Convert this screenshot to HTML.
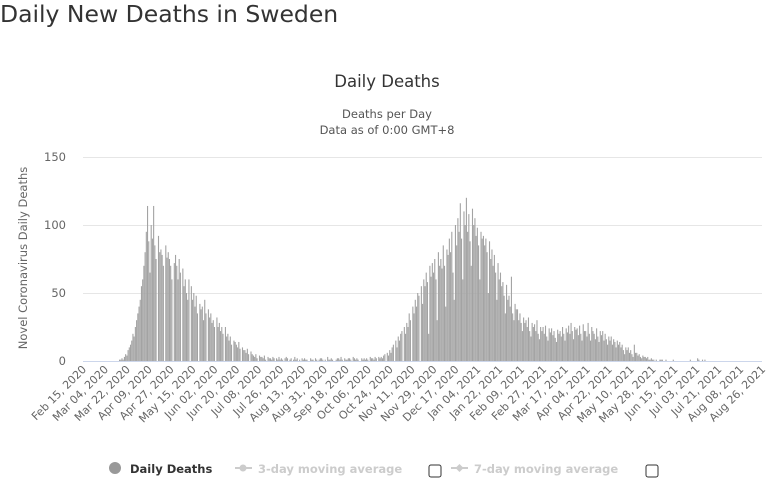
<!DOCTYPE html>
<html><head><meta charset="utf-8"><style>
body{margin:0;background:#fff;width:777px;height:483px;overflow:hidden;font-family:"DejaVu Sans",sans-serif}
</style></head><body>
<svg width="777" height="483" xmlns="http://www.w3.org/2000/svg" style="font-family:'DejaVu Sans',sans-serif">
<text x="0" y="22" font-size="23.5" fill="#333">Daily New Deaths in Sweden</text>
<text x="387" y="87" font-size="16.5" fill="#333" text-anchor="middle">Daily Deaths</text>
<text x="387" y="118" font-size="11.5" fill="#555" text-anchor="middle">Deaths per Day</text>
<text x="387" y="134" font-size="11.5" fill="#555" text-anchor="middle">Data as of 0:00 GMT+8</text>
<text transform="translate(27,258) rotate(-90)" font-size="11.5" fill="#666" text-anchor="middle">Novel Coronavirus Daily Deaths</text>
<g id="grid"></g><g id="bars"></g><g id="xl"></g>
<line x1="83" y1="361.5" x2="762" y2="361.5" stroke="#ccd6eb"/>
<g>
<circle cx="115" cy="468" r="6" fill="#999"/>
<text x="130" y="473" font-size="11.5" font-weight="bold" fill="#333">Daily Deaths</text>
<line x1="235" y1="468" x2="252" y2="468" stroke="#ccc" stroke-width="2"/><circle cx="243" cy="468" r="3.5" fill="#ccc"/>
<text x="258" y="473" font-size="11.5" font-weight="bold" fill="#ccc">3-day moving average</text>
<rect x="429" y="465" width="12" height="12" rx="2" fill="#fff" stroke="#333"/>
<line x1="451" y1="468" x2="468" y2="468" stroke="#ccc" stroke-width="2"/><path d="M459.5 464 L463.5 468 L459.5 472 L455.5 468Z" fill="#ccc"/>
<text x="474" y="473" font-size="11.5" font-weight="bold" fill="#ccc">7-day moving average</text>
<rect x="646" y="465" width="12" height="12" rx="2" fill="#fff" stroke="#333"/>
</g>
</svg>
<script>
const yTicks=[0,50,100,150];
const xLabels=["Feb 15, 2020","Mar 04, 2020","Mar 22, 2020","Apr 09, 2020","Apr 27, 2020","May 15, 2020","Jun 02, 2020","Jun 20, 2020","Jul 08, 2020","Jul 26, 2020","Aug 13, 2020","Aug 31, 2020","Sep 18, 2020","Oct 06, 2020","Oct 24, 2020","Nov 11, 2020","Nov 29, 2020","Dec 17, 2020","Jan 04, 2021","Jan 22, 2021","Feb 09, 2021","Feb 27, 2021","Mar 17, 2021","Apr 04, 2021","Apr 22, 2021","May 10, 2021","May 28, 2021","Jun 15, 2021","Jul 03, 2021","Jul 21, 2021","Aug 08, 2021","Aug 26, 2021"];
const labelStepDays=18;
const deaths=[
0,0,0,0,0,0,0, 0,0,0,0,0,0,0, 0,0,0,0,0,0,0, 0,0,0,0,0,0,0,
0,0,1,1,2,1,3, 5,4,8,10,12,15,20, 18,25,30,35,40,45,55, 60,70,80,95,114,88,65,
100,90,114,85,75,0,92, 80,82,78,70,0,85,76, 80,75,70,60,0,72,78, 70,60,75,65,0,68,55,
60,50,45,60,0,55,45, 50,40,48,35,0,42,38, 40,30,45,35,0,38,32, 35,28,30,25,0,32,25,
28,22,25,20,0,25,18, 20,15,18,12,0,15,14, 12,10,14,9,0,10,8, 8,6,9,5,0,7,5,
4,3,5,2,0,4,3, 3,2,4,1,0,3,2, 2,1,3,2,0,2,1, 3,1,2,1,0,2,3, 2,0,1,2,0,1,3,
1,2,0,1,0,2,1, 2,1,1,0,0,2,1, 1,0,2,1,0,1,2, 2,1,0,1,0,3,1, 1,2,1,0,0,1,2,
2,1,3,1,0,2,1, 1,2,2,1,0,3,2, 1,2,1,0,0,2,1, 2,1,2,1,0,3,2,
2,1,3,2,0,3,2, 3,2,4,5,0,6,4,
8,6,10,12,0,15,10, 18,15,20,22,0,25,20, 28,25,35,30,0,40,35, 45,40,50,48,0,55,42,
60,55,65,58,20,70,62, 72,65,75,60,30,80,70, 75,68,85,70,40,82,78, 90,80,95,65,45,100,85,
105,95,116,90,60,110,100, 120,95,108,88,70,112,100, 105,92,98,85,60,95,90, 92,85,90,80,50,88,75,
82,70,78,65,45,72,60, 65,55,58,48,35,56,45, 48,40,62,35,30,42,38, 38,30,35,28,22,32,28,
30,25,32,22,18,28,25, 27,22,30,20,16,25,22, 25,20,26,18,15,24,21, 24,19,22,17,14,23,20,
22,18,25,20,15,24,21, 26,20,28,22,16,25,23, 24,19,26,20,15,27,22, 22,18,28,20,15,25,22,
20,16,24,18,14,22,19, 22,15,20,16,12,18,15, 18,12,16,14,10,15,12, 14,10,12,8,5,10,8,
10,6,8,5,3,12,6, 6,4,5,3,2,4,3, 3,2,3,1,1,2,1, 1,0,1,0,0,1,1, 1,0,0,1,0,0,0,
0,0,1,0,0,0,0, 0,0,0,0,0,0,0, 0,0,1,0,0,0,0, 0,2,1,0,0,1,0,1];
const NS='http://www.w3.org/2000/svg';
const x0=83,pxDay=1.217,y0=361,pxUnit=1.36;
const xs=d=>x0+d*pxDay, ys=v=>y0-v*pxUnit;
const grid=document.getElementById('grid');
yTicks.forEach(t=>{
 const l=document.createElementNS(NS,'line');
 l.setAttribute('x1',83);l.setAttribute('x2',762);l.setAttribute('y1',Math.round(ys(t))+.5);l.setAttribute('y2',Math.round(ys(t))+.5);l.setAttribute('stroke','#e6e6e6');
 
 
 grid.appendChild(l);
 const tx=document.createElementNS(NS,'text');
 tx.setAttribute('x',66);tx.setAttribute('y',ys(t)+4);tx.setAttribute('text-anchor','end');tx.setAttribute('font-size','11.5');tx.setAttribute('fill','#666');tx.textContent=t;
 
 
 grid.appendChild(tx);
});
const bars=document.getElementById('bars');
deaths.forEach((v,i)=>{
 if(v<=0)return;
 const r=document.createElementNS(NS,'rect');
 r.setAttribute('x',xs(i)-0.5);r.setAttribute('width',1.1);r.setAttribute('y',ys(v));r.setAttribute('height',v*pxUnit);r.setAttribute('fill','#a3a3a3');
 
 
 bars.appendChild(r);
});
const xl=document.getElementById('xl');
xLabels.forEach((s,i)=>{
 const x=xs(i*labelStepDays);
 const t=document.createElementNS(NS,'text');
 t.setAttribute('transform','translate('+(x+4)+',370) rotate(-45)');t.setAttribute('text-anchor','end');t.setAttribute('font-size','11');t.setAttribute('fill','#666');t.textContent=s;
 
 
 xl.appendChild(t);
});
</script>
</body></html>
